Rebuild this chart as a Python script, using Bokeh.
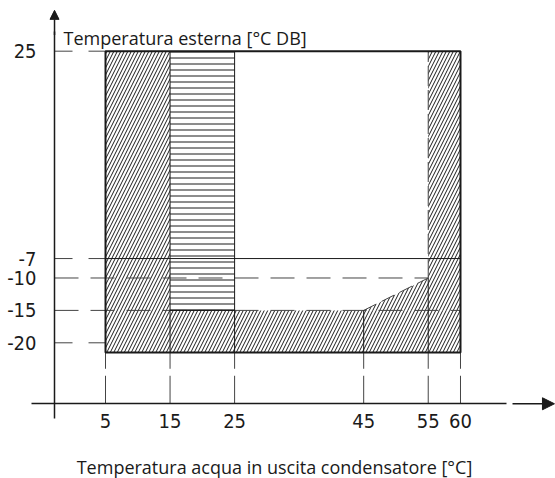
from bokeh.plotting import figure
from bokeh.models import LinearAxis, FixedTicker, Range1d, Arrow, NormalHead, Label
from bokeh.embed import file_html
from bokeh.resources import INLINE

# ---- chart data -------------------------------------------------------
x_ticks = [5, 15, 25, 45, 55, 60]
x_tick_labels = ["5", "15", "25", "45", "55", "60"]
y_ticks = [25, -7, -10, -15, -20]
y_tick_labels = ["25", "-7", "-10", "-15", "-20"]
x_title = "Temperatura acqua in uscita condensatore [°C]"
y_title = "Temperatura esterna [°C DB]"

# operating envelope (water outlet temp, outdoor temp)
water_min, water_max = 5, 60
air_max, air_min = 25, -21.5

# diagonal-hatched zones
diag_left = [5, 15, 55]
diag_right = [15, 60, 60]
diag_bottom = [-21.5, -21.5, -15]
diag_top = [25, -15, 25]
# wedge 45..55 between -15 and -10
wedge_x = [45, 55, 55]
wedge_y = [-15, -10, -15]
# horizontally hatched zone
horiz_left, horiz_right, horiz_bottom, horiz_top = 15, 25, -15, 25

# axis placement (schematic)
y_axis_at = -2.9
x_axis_at = -29.41

INK = "#1a1a1a"
GUIDE = "#444444"
TICK_FONT = "DejaVu Sans Condensed"

p = figure(width=555, height=478,
           x_range=Range1d(-11.27, 74.72), y_range=Range1d(-40.94, 32.82),
           output_backend="svg", toolbar_location=None,
           x_axis_location=None, y_axis_location=None,
           min_border=0, outline_line_color=None)
p.grid.visible = False

# hatched areas
p.quad(left=diag_left, right=diag_right, bottom=diag_bottom, top=diag_top,
       fill_color=None, line_color=None,
       hatch_pattern="right_diagonal_line", hatch_color=INK, hatch_scale=7, hatch_weight=1)
p.patch(wedge_x, wedge_y, fill_color=None, line_color=None,
        hatch_pattern="right_diagonal_line", hatch_color=INK, hatch_scale=7, hatch_weight=1)
p.quad(left=[horiz_left], right=[horiz_right], bottom=[horiz_bottom], top=[horiz_top],
       fill_color=None, line_color=None,
       hatch_pattern="horizontal_line", hatch_color=INK, hatch_scale=6, hatch_weight=1)

# guide lines from the y axis
short_y = [25, -7, -20]
p.segment(x0=[y_axis_at] * 3, y0=short_y, x1=[water_min] * 3, y1=short_y,
          line_color=GUIDE, line_width=1, line_dash="18 16")
p.segment(x0=[y_axis_at, y_axis_at], y0=[-10, -15], x1=[55, 60], y1=[-10, -15],
          line_color=GUIDE, line_width=1, line_dash="24 12")
# guide lines from the x axis
p.segment(x0=x_ticks, y0=[x_axis_at] * len(x_ticks), x1=x_ticks, y1=[air_min] * len(x_ticks),
          line_color=GUIDE, line_width=1, line_dash="28 7")

# inner boundaries
p.segment(x0=[15, 25, 45, water_min, 55], y0=[air_min, air_min, air_min, -7, air_min],
          x1=[15, 25, 45, water_max, 55], y1=[air_max, air_max, -15, -7, -10],
          line_color=INK, line_width=1)
p.segment(x0=[55], y0=[-10], x1=[55], y1=[air_max], line_color=GUIDE, line_width=1, line_dash="20 4")
p.segment(x0=[horiz_left], y0=[horiz_bottom], x1=[horiz_right], y1=[horiz_bottom],
          line_color=INK, line_width=1.2)
p.line(wedge_x[:2], wedge_y[:2], line_color=GUIDE, line_width=1, line_dash="14 6")

# outer envelope
p.quad(left=[water_min], right=[water_max], bottom=[air_min], top=[air_max],
       fill_color=None, line_color=INK, line_width=2)

# axes
xaxis = LinearAxis(fixed_location=x_axis_at, ticker=FixedTicker(ticks=x_ticks),
                   bounds=(-6.4, 67.1),
                   major_label_overrides=dict(zip(x_ticks, x_tick_labels)),
                   major_tick_line_color=None, minor_tick_line_color=None,
                   major_tick_in=0, major_tick_out=0, minor_tick_in=0, minor_tick_out=0,
                   axis_line_color=INK, axis_line_width=1.5,
                   major_label_standoff=10,
                   major_label_text_font=TICK_FONT,
                   major_label_text_font_size="20px", major_label_text_color=INK)
p.add_layout(xaxis, "below")
yaxis = LinearAxis(fixed_location=y_axis_at, ticker=FixedTicker(ticks=y_ticks),
                   bounds=(-31.68, 28.0),
                   major_label_overrides=dict(zip(y_ticks, y_tick_labels)),
                   major_tick_line_color=None, minor_tick_line_color=None,
                   major_tick_in=0, major_tick_out=0, minor_tick_in=0, minor_tick_out=0,
                   axis_line_color=INK, axis_line_width=1.5,
                   major_label_standoff=18,
                   major_label_text_font=TICK_FONT,
                   major_label_text_font_size="20px", major_label_text_color=INK)
p.add_layout(yaxis, "left")

# axis arrows
p.add_layout(Arrow(end=NormalHead(size=12, fill_color=INK, line_color=INK),
                   x_start=68.06, y_start=x_axis_at, x_end=74.56, y_end=x_axis_at,
                   line_color=INK, line_width=1.5))
p.add_layout(Arrow(end=NormalHead(size=9, fill_color=INK, line_color=INK),
                   x_start=y_axis_at, y_start=27.5, x_end=y_axis_at, y_end=31.3,
                   line_color=INK, line_width=1.5))

# axis titles
p.add_layout(Label(x=-1.5, y=26.96, text=y_title, text_font="Open Sans",
                   text_font_size="18px", text_color=INK,
                   text_align="left", text_baseline="alphabetic"))
p.add_layout(Label(x=31.18, y=-39.24, text=x_title, text_font="Open Sans",
                   text_font_size="18px", text_color=INK,
                   text_align="center", text_baseline="alphabetic"))

open("out.html", "w").write(file_html(p, INLINE))
